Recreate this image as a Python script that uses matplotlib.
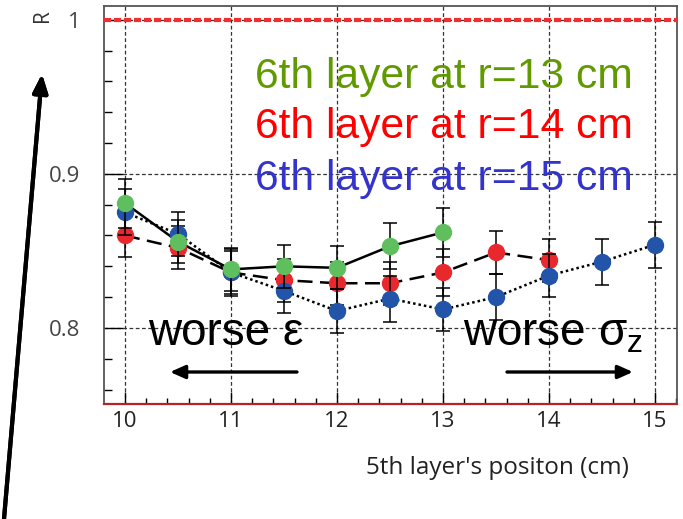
import matplotlib.pyplot as plt
from matplotlib.ticker import MultipleLocator

plt.rcParams['font.family'] = ['Liberation Sans', 'DejaVu Sans']
plt.rcParams['mathtext.fontset'] = 'custom'
plt.rcParams['mathtext.rm'] = 'Liberation Sans'
plt.rcParams['mathtext.it'] = 'Liberation Sans:italic'

# 6th layer at r = 13 cm
pos_13 = [10, 10.5, 11, 11.5, 12, 12.5, 13]
R_13 = [0.881, 0.856, 0.838, 0.840, 0.839, 0.853, 0.862]
err_13 = [0.016, 0.014, 0.014, 0.014, 0.014, 0.015, 0.016]

# 6th layer at r = 14 cm
pos_14 = [10, 10.5, 11, 11.5, 12, 12.5, 13, 13.5, 14]
R_14 = [0.860, 0.852, 0.836, 0.831, 0.829, 0.829, 0.836, 0.849, 0.844]
err_14 = [0.014, 0.014, 0.014, 0.014, 0.014, 0.014, 0.015, 0.014, 0.014]

# 6th layer at r = 15 cm
pos_15 = [10, 10.5, 11, 11.5, 12, 12.5, 13, 13.5, 14, 14.5, 15]
R_15 = [0.875, 0.861, 0.836, 0.824, 0.811, 0.819, 0.812, 0.820, 0.834, 0.843, 0.854]
err_15 = [0.015, 0.014, 0.015, 0.014, 0.014, 0.015, 0.014, 0.015, 0.014, 0.015, 0.015]

xticks = [10, 11, 12, 13, 14, 15]
yticks = [0.8, 0.9, 1.0]
ytick_labels = ['0.8', '0.9', '1']

fig = plt.figure(figsize=(6.83, 5.19), dpi=100)
ax = fig.add_axes([104/683, 1 - 404/519, 573/683, 398/519])

ax.set_xlim(9.802, 15.208)
ax.set_ylim(0.7506, 1.009)

ax.set_xticks(xticks)
ax.set_xticklabels([str(t) for t in xticks], fontsize=16, color='#222',
                   family=['Open Sans', 'DejaVu Sans'])
ax.set_yticks(yticks)
ax.set_yticklabels(ytick_labels, fontsize=16, color='#444',
                   family=['Open Sans', 'DejaVu Sans'])
ax.xaxis.set_minor_locator(MultipleLocator(0.2))
ax.yaxis.set_minor_locator(MultipleLocator(0.02))
ax.tick_params(axis='x', which='major', direction='in', length=9, width=1, pad=5)
ax.tick_params(axis='x', which='minor', direction='in', length=4, width=1)
ax.tick_params(axis='y', which='major', direction='in', length=14, width=1, pad=17)
ax.tick_params(axis='y', which='minor', direction='in', length=6, width=1)

ax.grid(True, which='major', ls=(0, (3, 2)), color='#333', lw=0.9)
ax.axhline(1.0, color='#f03030', lw=3, ls=(0, (1.7, 0.7)), zorder=3)

for side in ['top', 'left', 'right']:
    ax.spines[side].set_color('#555')
    ax.spines[side].set_linewidth(1.3)
ax.spines['bottom'].set_color('#b82222')
ax.spines['bottom'].set_linewidth(1.6)

# connecting lines
ax.plot(pos_14, R_14, color='black', lw=1.8, ls=(0, (6, 3)), zorder=4)
ax.plot(pos_15, R_15, color='black', lw=1.8, ls=(0, (1, 1.2)), zorder=4)
ax.plot(pos_13, R_13, color='black', lw=1.8, ls='-', zorder=4)

# points with error bars
for x, y, e, c, z in [(pos_14, R_14, err_14, '#e8282c', 5),
                      (pos_15, R_15, err_15, '#2255aa', 6),
                      (pos_13, R_13, err_13, '#5fbf5f', 7)]:
    ax.errorbar(x, y, yerr=e, fmt='o', ms=11.5, color=c, mec=c,
                ecolor='black', elinewidth=1.1, capsize=5, capthick=1.1,
                zorder=z)

ax.text(0.2635, 0.794, '6th layer at r=13 cm', transform=ax.transAxes,
        fontsize=30.7, color='#619a00', va='baseline')
ax.text(0.2635, 0.668, '6th layer at r=14 cm', transform=ax.transAxes,
        fontsize=30.7, color='#ff0000', va='baseline')
ax.text(0.2635, 0.538, '6th layer at r=15 cm', transform=ax.transAxes,
        fontsize=30.7, color='#3434cc', va='baseline')

ax.text(0.0768, 0.148, 'worse ε', transform=ax.transAxes,
        fontsize=33, color='black', va='baseline', zorder=8)
ax.text(0.6265, 0.148, r'worse $\mathrm{\sigma}_{\rm z}$', transform=ax.transAxes,
        fontsize=33, color='black', va='baseline', zorder=8)

arrow = dict(arrowstyle='-|>,head_length=0.9,head_width=0.4', color='black',
             lw=2.4, shrinkA=0, shrinkB=0)
ax.annotate('', xy=(0.1152, 0.0804), xytext=(0.3368, 0.0804),
            xycoords='axes fraction', arrowprops=arrow)
ax.annotate('', xy=(0.9232, 0.0804), xytext=(0.7033, 0.0804),
            xycoords='axes fraction', arrowprops=arrow)

ax.set_xlabel("5th layer's positon (cm)", fontsize=17.5, color='#222',
              family=['Open Sans', 'DejaVu Sans'])
ax.xaxis.set_label_coords(0.686, -0.13)

fig.text(42/683, 1 - 16/519, 'R', rotation=90, fontsize=15, color='#333',
         ha='center', va='center', family=['Open Sans', 'DejaVu Sans'])

# big arrow pointing up towards R
fig.add_artist(plt.annotate('', xy=(42/683, 1 - 74/519), xytext=(4/683, 0.0),
               xycoords='figure fraction',
               arrowprops=dict(arrowstyle='-|>,head_length=1.1,head_width=0.45',
                               color='black', lw=3, shrinkA=0, shrinkB=0)))

fig.savefig('out.png', dpi=100)
